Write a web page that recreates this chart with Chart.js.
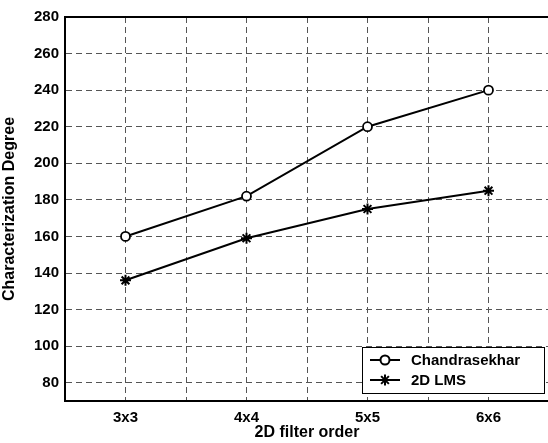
<!DOCTYPE html>
<html>
<head>
<meta charset="utf-8">
<script src="https://cdn.jsdelivr.net/npm/chart.js@4"></script>
<style>
html,body{margin:0;padding:0;background:#fff;overflow:hidden;}
canvas{display:block;}
</style>
</head>
<body>
<canvas id="c" width="557" height="443"></canvas>
<script>
const categories = ['3x3','4x4','5x5','6x6'];
const chandrasekhar = [160,182,220,240];
const lms2d = [136,159,175,185];
const seriesNames = ['Chandrasekhar','2D LMS'];

Chart.defaults.font.family = '"Liberation Sans", Arial, sans-serif';
Chart.defaults.font.weight = 'bold';
Chart.defaults.font.size = 15;
Chart.defaults.color = '#000';

const toPts = arr => arr.map((v,i)=>({x:i+1,y:v}));

// top frame line + legend box inside the plot
const frame = {
  id:'frame',
  afterDatasetsDraw(chart){
    const {ctx,chartArea:a} = chart;
    ctx.save();
    ctx.strokeStyle='#000'; ctx.lineWidth=2;
    ctx.beginPath(); ctx.moveTo(a.left,a.top); ctx.lineTo(a.right+2,a.top); ctx.stroke();

    // legend
    const bx=362, by=347, bw=182, bh=46;
    ctx.fillStyle='#fff'; ctx.fillRect(bx,by,bw,bh);
    ctx.lineWidth=1; ctx.strokeRect(bx+0.5,by+0.5,bw,bh);
    chart.data.datasets.forEach((ds,i)=>{
      const y = by+13+i*20;
      ctx.strokeStyle='#000'; ctx.lineWidth=2;
      ctx.beginPath(); ctx.moveTo(370,y); ctx.lineTo(400,y); ctx.stroke();
      ctx.fillStyle=ds.backgroundColor;
      Chart.helpers.drawPoint(ctx,{pointStyle:ds.pointStyle,radius:ds.pointRadius,borderWidth:ds.pointBorderWidth},385,y);
      ctx.fillStyle='#000';
      ctx.font='bold 15px "Liberation Sans", Arial, sans-serif';
      ctx.textBaseline='middle'; ctx.textAlign='left';
      ctx.fillText(ds.label,411,y+1);
    });
    ctx.restore();
  }
};

new Chart(document.getElementById('c'),{
  type:'line',
  data:{datasets:[
    {label:seriesNames[0],data:toPts(chandrasekhar),borderColor:'#000',backgroundColor:'#fff',
     borderWidth:2,pointStyle:'circle',pointRadius:4.5,pointBorderWidth:1.8,tension:0},
    {label:seriesNames[1],data:toPts(lms2d),borderColor:'#000',backgroundColor:'#000',
     borderWidth:2,pointStyle:'star',pointRadius:5.5,pointBorderWidth:2,tension:0}
  ]},
  options:{
    responsive:false,animation:false,
    layout:{padding:{top:17,right:2,left:0,bottom:0}},
    plugins:{legend:{display:false},tooltip:{enabled:false}},
    scales:{
      x:{type:'linear',min:0.5,max:4.5,
        ticks:{stepSize:0.5,padding:8,autoSkip:false,maxRotation:0,
          callback:v=>Number.isInteger(v)?categories[v-1]:''},
        grid:{color:c=>(c.tick && c.tick.value>4.25)?'#fff':'#555',lineWidth:1,drawTicks:false},
        border:{color:'#000',width:2,dash:[6,4]},
        title:{display:true,text:'2D filter order',font:{size:16,weight:'bold'},padding:{top:0,bottom:1}},
        afterFit:s=>{s.height=42;}
      },
      y:{min:70,max:280,
        ticks:{stepSize:20,padding:6,includeBounds:false},
        grid:{color:'#555',lineWidth:1,drawTicks:false},
        border:{color:'#000',width:2,dash:[6,4]},
        title:{display:true,text:'Characterization Degree',font:{size:16,weight:'bold'},padding:{top:0,bottom:4}},
        afterFit:s=>{s.width=65;}
      }
    }
  },
  plugins:[frame]
});
</script>
</body>
</html>
